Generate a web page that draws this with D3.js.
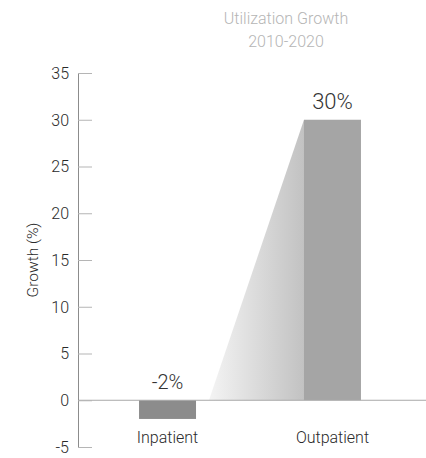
<!DOCTYPE html>
<html>
<head>
<meta charset="utf-8">
<script src="https://cdn.jsdelivr.net/npm/d3@7"></script>
<style>
  html, body { margin: 0; padding: 0; background: #fff; }
  svg { display: block; font-family: Roboto, "Noto Sans", sans-serif; font-weight: 300; }
</style>
</head>
<body>
<svg id="chart" width="426" height="458"></svg>
<script>
// Utilization growth by setting, 2010-2020
const categories = ["Inpatient", "Outpatient"];
const growth = [-2, 30];
const valueLabels = ["-2%", "30%"];
const yTicks = [-5, 0, 5, 10, 15, 20, 25, 30, 35];
const titleLines = ["Utilization Growth", "2010-2020"];

const svg = d3.select("#chart");

const y = d3.scaleLinear().domain([-5, 35]).range([447, 73]);
const x = d3.scaleBand()
  .domain(categories)
  .range([78, 422])
  .paddingInner(0.6545)
  .paddingOuter(0.37);

const axisX = 78;

// Title
svg.append("g")
  .selectAll("text")
  .data(titleLines)
  .join("text")
  .attr("x", 286)
  .attr("y", (d, i) => 24 + i * 23)
  .attr("text-anchor", "middle")
  .attr("font-size", 16)
  .attr("fill", "#b5b5b5")
  .text(d => d);

// Gradient for the growth wedge
const defs = svg.append("defs");
const grad = defs.append("linearGradient")
  .attr("id", "wedge")
  .attr("x1", "0").attr("y1", "0")
  .attr("x2", "1").attr("y2", "0");
grad.append("stop").attr("offset", "0").attr("stop-color", "#f4f4f4");
grad.append("stop").attr("offset", "1").attr("stop-color", "#c2c2c2");

// Wedge rising from the inpatient side to the outpatient bar
const inRight = x("Inpatient") + x.bandwidth();
const outLeft = x("Outpatient");
const wedgeStart = inRight + (outLeft - inRight) * 0.12;
svg.append("path")
  .attr("d", d3.line()([
    [wedgeStart, y(0)],
    [outLeft, y(growth[1])],
    [outLeft, y(0)]
  ]) + "Z")
  .attr("fill", "url(#wedge)");

// Bars
const barColors = ["#8c8c8c", "#a5a5a5"];
svg.append("g")
  .selectAll("rect")
  .data(growth)
  .join("rect")
  .attr("x", (d, i) => x(categories[i]))
  .attr("width", x.bandwidth())
  .attr("y", d => y(Math.max(0, d)))
  .attr("height", d => Math.abs(y(d) - y(0)))
  .attr("fill", (d, i) => barColors[i]);

// Zero baseline across the plot
svg.append("line")
  .attr("x1", axisX).attr("x2", 426)
  .attr("y1", y(0)).attr("y2", y(0))
  .attr("stroke", "#a8a8a8")
  .attr("stroke-width", 1);

// Y axis with short inward ticks
const yAxis = d3.axisRight(y)
  .tickValues(yTicks)
  .tickSize(14)
  .tickFormat("");
const gy = svg.append("g")
  .attr("transform", `translate(${axisX},0)`)
  .call(yAxis);
gy.select(".domain")
  .attr("stroke", "#8c8c8c")
  .attr("d", `M0.5,${y(-5)}V${y(35)}`);
gy.selectAll(".tick line").attr("stroke", "#b5b5b5");

// Tick labels
svg.append("g")
  .selectAll("text")
  .data(yTicks)
  .join("text")
  .attr("x", 69)
  .attr("y", d => y(d))
  .attr("dy", "0.36em")
  .attr("text-anchor", "end")
  .attr("font-size", 16)
  .attr("fill", "#2a2a2a")
  .text(d => d);

// Y axis title
svg.append("text")
  .attr("transform", `translate(38,${(y(-5) + y(35)) / 2}) rotate(-90)`)
  .attr("text-anchor", "middle")
  .attr("font-size", 15.5)
  .attr("fill", "#2a2a2a")
  .text("Growth (%)");

// Value labels
svg.append("g")
  .selectAll("text")
  .data(growth)
  .join("text")
  .attr("x", (d, i) => x(categories[i]) + x.bandwidth() / 2)
  .attr("y", d => y(Math.max(0, d)) - 11)
  .attr("text-anchor", "middle")
  .attr("font-size", (d, i) => i === 1 ? 22 : 20)
  .attr("fill", "#333")
  .text((d, i) => valueLabels[i]);

// Category labels
svg.append("g")
  .selectAll("text")
  .data(categories)
  .join("text")
  .attr("x", d => x(d) + x.bandwidth() / 2)
  .attr("y", 443)
  .attr("text-anchor", "middle")
  .attr("font-size", 16)
  .attr("fill", "#2a2a2a")
  .text(d => d);
</script>
</body>
</html>
